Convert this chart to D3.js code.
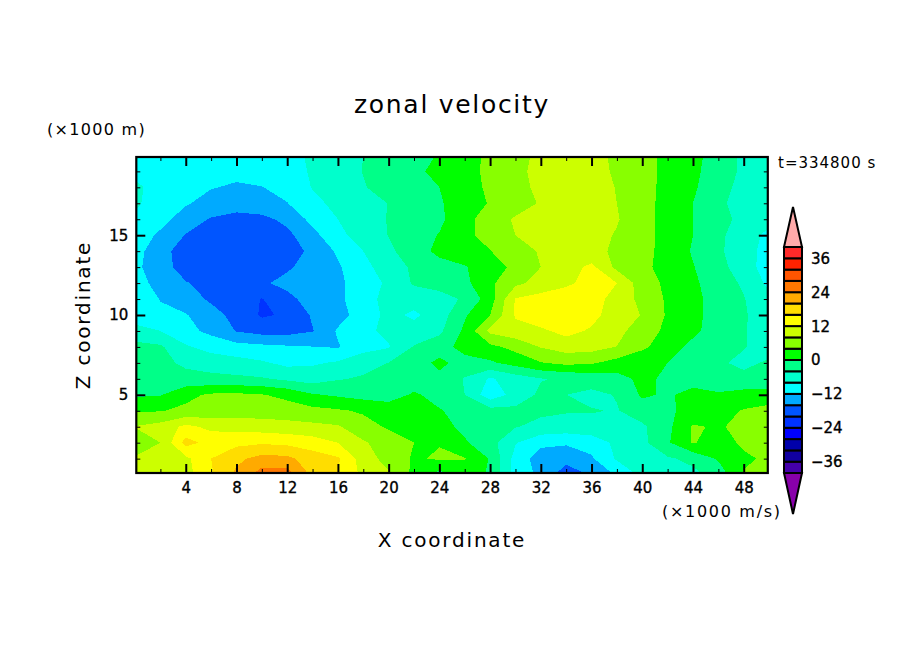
<!DOCTYPE html>
<html>
<head>
<meta charset="utf-8">
<title>zonal velocity</title>
<script src="https://d3js.org/d3.v7.min.js"></script>
<style>
body { margin: 0; background: #fff; }
text { font-family: "DejaVu Sans", sans-serif; fill: #000; }
</style>
</head>
<body>
<div id="graph"></div>
<script>
// contour levels (lower edge of each band) and tick values
var levels = [-40,-36,-32,-28,-24,-20,-16,-12,-8,-4,0,4,8,12,16,20,24,28,32,36];
var barLabels = [36,24,12,0,-12,-24,-36];
var xMajor = [4,8,12,16,20,24,28,32,36,40,44,48];
var xMinor = [2,6,10,14,18,22,26,30,34,38,42,46];
var zMajor = [5,10,15];
var zMinor = [1,2,3,4,6,7,8,9,11,12,13,14,16,17,18,19];

// grid columns x = 0,2,...,50 (x1000 m), one array per height z (x1000 m), m/s x1000
var z20 = [-7.5,-9.5,-10,-10,-10,-10,-9,-7.5,-5.5,-4,-2.5,-1,0.2,2.5,4.8,7,8.7,9.5,9,7.4,5.5,3,1,-1.5,-5,-7];
var z19 = [-9,-10,-10.5,-11,-11,-10.5,-9.5,-7.6,-5.5,-3.9,-2.5,-0.8,1,2.8,4.8,7.3,8.8,9.5,9,7.6,5.4,3,0.8,-1.8,-4.8,-7];
var z18 = [-7,-10,-11,-11.8,-12.5,-12.1,-10.8,-7.8,-5.8,-4.2,-2.8,-1.3,0,2.4,4.7,7,8.7,9.5,9,7.9,5.5,2.8,0.5,-2.2,-5.5,-7.5];
var z17 = [-7.5,-9.5,-11.6,-13.5,-14,-13.5,-12.1,-9.2,-6.8,-5.5,-3.9,-2.2,-0.4,2,4.3,6.4,8.3,9.5,9.3,8,5.5,2.6,0,-3,-6,-7.5];
var z16 = [-8.5,-10.5,-14,-16.3,-17.5,-17,-15,-10.8,-8,-5.8,-3.8,-2.5,-0.8,2.6,6.2,8.4,9.5,10,9.5,8.3,5.5,2.5,0,-2.5,-5.2,-7];
var z15 = [-9.5,-12.8,-16.2,-18,-18.8,-18.5,-17,-13.2,-9.2,-6,-3.9,-1.8,0.2,3.2,5.2,8,9.5,10,9.3,7.7,5.4,2.7,0,-3.2,-6,-9];
var z14 = [-10.5,-14.5,-18,-19,-19.3,-19,-18,-15,-11.4,-8,-4.8,-1.8,1,2.5,3.9,6.2,8.4,9.5,9,7.4,5,2.9,-0.4,-3.3,-6.4,-9.5];
var z13 = [-11,-14.5,-17.5,-18.5,-18.8,-18.3,-16.5,-14.5,-12.5,-9.2,-6,-3.3,-1.5,-0.3,2.4,4.8,8,10,13,7,4.8,2.8,0.2,-2.7,-6,-10];
var z12 = [-10.5,-13.3,-15.8,-17,-17.2,-16.5,-15,-14,-12.8,-10,-7.3,-3.5,-2.5,-1,3.2,7,9.5,11.2,13.5,12,5.8,3.2,0.8,-2.3,-4.5,-9];
var z11 = [-8.7,-12.2,-14.5,-16.5,-17.5,-20.2,-17,-14.5,-13,-9.2,-7,-6.4,-5.5,-3.5,2.1,12.3,13.5,14.5,14,10.2,7,3.4,1,-1.5,-3.8,-7];
var z10 = [-9.5,-11,-11.7,-14.8,-17,-20.5,-19.5,-15.5,-13.6,-10,-7,-8.7,-6,-0.5,4,12.5,14.5,15,13.2,10,7.8,3.5,1,-1.5,-3.6,-6];
var z9  = [-7,-8,-10.8,-13,-16.2,-17.5,-17.5,-16.2,-11.5,-9,-7,-6.5,-4.8,0.8,9,10.5,11.3,13.2,11.5,9.2,6,3.1,0.8,-1.7,-3.7,-6];
var z8  = [-2.5,-3.4,-7.5,-9.5,-10.5,-11,-11.5,-11.9,-12.3,-9.5,-8.3,-3.7,-1.8,1.5,3,5.2,8.2,9.8,9.5,7.9,4.8,1.8,-1,-2.5,-3.8,-5.5];
var z7  = [-2,-3,-4.7,-5.6,-6.5,-7.5,-9,-8.5,-7.5,-5.5,-3.9,-1.8,0.9,-1.5,-0.6,1.5,3.8,5,4.5,2.5,1,0,-2,-3.5,-4.8,-3.5];
var z6  = [-2,-2.5,-2.8,-3,-3.2,-3.6,-4.8,-5.8,-4.3,-3.5,-3,-2.5,-1,-4.3,-8.5,-6,-4.2,-3.6,-2.5,-1.5,1,-0.8,-1.5,-2.5,-3,-2.5];
var z5  = [-0.6,-0.2,3,4.6,4.8,4.2,3,0.4,-0.6,-1.5,-2,0.6,-1.5,-4,-10.5,-6.5,-3.2,-4,-4.8,-3.8,0.6,-0.5,1.2,0.5,1.5,1.5];
var z4  = [3.5,3.8,4.8,5.5,6,6,5.8,5.2,4.5,3.5,2.5,2,0.3,-1.5,-2.5,-3,-3.3,-3.7,-3.8,-4.2,-2,-0.5,1,2.5,4.3,5.5];
var z3  = [8.2,9.5,13,11,10.5,10,9.5,9,8.4,5.5,3.5,3,1.5,-1,-2.5,-3.8,-5,-5.5,-5,-5.2,-4.7,-1,4.4,3.6,5,6];
var z2  = [5,8,17.5,14.5,15,15.5,15,14,12,8.5,6,4,3.8,0.5,-2.5,-7.7,-11,-11.5,-10.5,-7,-5,-0.5,4.4,1.5,5,6];
var z1  = [8.5,9.5,11,16,19,21.5,21,18,16.5,10,6.5,3.5,4.5,4.2,-0.3,-9.5,-14,-14.5,-12.5,-7.5,-6,-4.5,-3,0.5,3,5];
var z0  = [9,10,10.5,15.5,21,26,26,19,16,11,8.5,3,-1.5,2,-0.5,-9.5,-13,-18.5,-15.5,-11.5,-7,-4.5,-5,-2.5,4.5,9];

var bandColors = ["#4400aa","#1100a0","#0000aa","#0000ff","#0033ff","#0055ff","#00aaff","#00ffff",
	"#00ffcc","#00ff88","#00ff00","#88ff00","#ccff00","#ffff00","#ffdd00","#ffaa00","#ff7700","#ff5500","#ff2200","#ff2a2a"];

var rows = [z20,z19,z18,z17,z16,z15,z14,z13,z12,z11,z10,z9,z8,z7,z6,z5,z4,z3,z2,z1,z0];
var nx = z0.length, ny = rows.length;
var field = d3.merge(rows);

var svg = d3.select("#graph").append("svg")
	.attr("width", 904)
	.attr("height", 654)
	.style("display", "block");

var x = d3.scaleLinear().domain([0.1, 49.9]).range([136.3, 767.8]);
var y = d3.scaleLinear().domain([0.1, 19.9]).range([473, 157]);

// contour rings come in grid units, cell centres are at i+0.5
var gx = d3.scaleLinear().domain([0.5, nx - 0.5]).range([x(0), x(50)]);
var gy = d3.scaleLinear().domain([0.5, ny - 0.5]).range([y(20), y(0)]);
var gridPath = d3.geoPath(d3.geoTransform({
	point: function(a, b) { this.stream.point(gx(a), gy(b)); }
}));

svg.append("clipPath").attr("id", "plot")
	.append("rect")
	.attr("x", x(0.1)).attr("y", y(19.9))
	.attr("width", x(49.9) - x(0.1))
	.attr("height", y(0.1) - y(19.9));

var contours = d3.contours().size([nx, ny]).thresholds(levels)(field);

svg.append("g")
	.attr("clip-path", "url(#plot)")
	.selectAll("path")
	.data(contours)
	.enter().append("path")
	.attr("d", gridPath)
	.attr("shape-rendering", "crispEdges")
	.attr("fill", function(d) { return bandColors[levels.indexOf(d.value)]; });

// axes, ticks point inward on all four sides
function addAxis(axis, tx, ty, weight) {
	var g = svg.append("g")
		.attr("transform", "translate(" + tx + "," + ty + ")")
		.call(axis);
	g.select(".domain").remove();
	g.selectAll("line").attr("stroke", "#000").attr("stroke-width", weight);
	g.selectAll("text").attr("font-size", 15).attr("font-family", "DejaVu Sans")
		.attr("stroke", "#000").attr("stroke-width", 0.35);
	return g;
}
var noFormat = function() { return ""; };

addAxis(d3.axisBottom(x).tickValues(xMajor).tickSize(-9).tickPadding(9), 0, 473, 2);
addAxis(d3.axisBottom(x).tickValues(xMinor).tickSize(-4).tickFormat(noFormat), 0, 473, 1);
addAxis(d3.axisTop(x).tickValues(xMajor).tickSize(-9).tickFormat(noFormat), 0, 157, 2);
addAxis(d3.axisTop(x).tickValues(xMinor).tickSize(-4).tickFormat(noFormat), 0, 157, 1);
addAxis(d3.axisLeft(y).tickValues(zMajor).tickSize(-9).tickPadding(8), 136.3, 0, 2);
addAxis(d3.axisLeft(y).tickValues(zMinor).tickSize(-4).tickFormat(noFormat), 136.3, 0, 1);
addAxis(d3.axisRight(y).tickValues(zMajor).tickSize(-9).tickFormat(noFormat), 767.8, 0, 2);
addAxis(d3.axisRight(y).tickValues(zMinor).tickSize(-4).tickFormat(noFormat), 767.8, 0, 1);

svg.append("rect")
	.attr("x", x(0.1)).attr("y", y(19.9))
	.attr("width", x(49.9) - x(0.1))
	.attr("height", y(0.1) - y(19.9))
	.attr("fill", "none").attr("stroke", "#000").attr("stroke-width", 2.2);

// colour bar
var bar = d3.scaleLinear().domain([-40, 40]).range([473, 247]);
var barX = 784, barW = 18;

svg.append("g").selectAll("rect")
	.data(levels)
	.enter().append("rect")
	.attr("x", barX).attr("width", barW)
	.attr("y", function(d) { return bar(d + 4); })
	.attr("height", function(d) { return bar(d) - bar(d + 4); })
	.attr("fill", function(d, i) { return bandColors[i]; })
	.attr("stroke", "#000").attr("stroke-width", 2);

var triangle = d3.line();
svg.append("path")
	.attr("d", triangle([[barX, bar(40)], [barX + barW / 2, bar(40) - 40], [barX + barW, bar(40)]]) + "Z")
	.attr("fill", "#ffaaaa").attr("stroke", "#000").attr("stroke-width", 2);
svg.append("path")
	.attr("d", triangle([[barX, bar(-40)], [barX + barW / 2, bar(-40) + 41], [barX + barW, bar(-40)]]) + "Z")
	.attr("fill", "#8800aa").attr("stroke", "#000").attr("stroke-width", 2);

svg.append("g").selectAll("text")
	.data(barLabels)
	.enter().append("text")
	.attr("x", 811)
	.attr("y", function(d) { return bar(d); })
	.attr("dy", "0.36em")
	.attr("font-size", 15)
	.attr("stroke", "#000").attr("stroke-width", 0.35)
	.text(function(d) { return d3.format("d")(d).replace("-", "\u2212"); });

// titles
function label(txt, px, py, size, spacing, anchor) {
	return svg.append("text")
		.attr("x", px).attr("y", py)
		.attr("font-size", size)
		.attr("letter-spacing", spacing)
		.attr("text-anchor", anchor)
		.text(txt);
}
label("zonal velocity", 452, 113, 25, 1.7, "middle");
label("X coordinate", 452, 547, 20, 1.8, "middle");
label("(\u00d71000 m)", 47, 135, 16, 1.3, "start");
label("(\u00d71000 m/s)", 662, 517, 16, 1.7, "start");
label("t=334800 s", 778, 168, 15, 1, "start");
label("Z coordinate", 0, 0, 20, 1.8, "middle")
	.attr("transform", "translate(90,315) rotate(-90)");
</script>
</body>
</html>
